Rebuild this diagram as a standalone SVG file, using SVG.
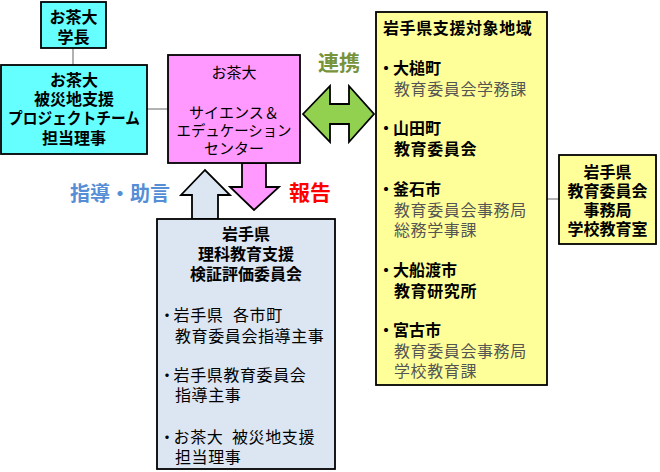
<svg xmlns="http://www.w3.org/2000/svg" width="660" height="472" viewBox="0 0 660 472">
<style>
text{font-family:"Noto Sans CJK JP","Noto Sans CJK SC",sans-serif;font-size:16px;fill:#000}
.b{font-weight:bold}
.c{text-anchor:middle}
.g{fill:#555}
.s{letter-spacing:0.6px}
.box{stroke:#000;stroke-width:1.8}
.con{stroke:#888;stroke-width:1.3;fill:none}
.arr{stroke:#000;stroke-width:1.8;stroke-linejoin:miter}
</style>
<rect width="660" height="472" fill="#fff"/>
<g id="connectors">
<line class="con" x1="73" y1="48" x2="73" y2="65"/>
<line class="con" x1="147" y1="109" x2="168" y2="109"/>
<line class="con" x1="547" y1="199" x2="559" y2="199"/>
<polygon class="arr" fill="#92D050" points="303,114 330,86 330,104 349,104 349,86 374,114 349,142 349,124 330,124 330,142"/>
<polygon class="arr" fill="#FF99FF" points="242,163 266,163 266,187 279,187 254,210 230,187 242,187"/>
<polygon class="arr" fill="#DCE6F2" points="192,219 218,219 218,195 230,195 205,170 181,195 192,195"/>
<text class="b c" x="339" y="70" style="font-size:21px;fill:#77933C">連携</text>
<text class="b c" x="310" y="200" style="font-size:21px;fill:#FF0000">報告</text>
<text class="b c" x="120" y="201" style="font-size:20px;fill:#558ED5">指導・助言</text>
</g>
<g id="president">
<rect class="box" x="41" y="2" width="65" height="46" fill="#66FFFF"/>
<text class="b c" x="73.5" y="23">お茶大</text>
<text class="b c" x="73.5" y="43">学長</text>
</g>
<g id="project">
<rect class="box" x="1" y="65" width="146" height="89" fill="#66FFFF"/>
<text class="b c" x="74" y="86">お茶大</text>
<text class="b c" x="74" y="105">被災地支援</text>
<text class="b c" x="74" y="124" textLength="132" lengthAdjust="spacingAndGlyphs">プロジェクトチーム</text>
<text class="b c" x="74" y="144">担当理事</text>
</g>
<g id="center">
<rect class="box" x="168" y="55" width="132" height="108" fill="#FF99FF"/>
<text class="c" x="234" y="78" style="font-size:15px">お茶大</text>
<text class="c" x="234" y="118" style="font-size:15px" textLength="90" lengthAdjust="spacingAndGlyphs">サイエンス＆</text>
<text class="c" x="234" y="136" style="font-size:15px" textLength="115" lengthAdjust="spacingAndGlyphs">エデュケーション</text>
<text class="c" x="234" y="154" style="font-size:15px" textLength="60" lengthAdjust="spacingAndGlyphs">センター</text>
</g>
<g id="committee">
<rect class="box" x="157" y="219" width="178" height="250" fill="#DCE6F2"/>
<text class="b c" x="246" y="240">岩手県</text>
<text class="b c" x="246" y="260">理科教育支援</text>
<text class="b c" x="246" y="280">検証評価委員会</text>
<text class="s" x="159" y="321">・<tspan dx="-2">岩手県　</tspan><tspan dx="-7">各市町</tspan></text>
<text class="s" x="175" y="342">教育委員会指導主事</text>
<text class="s" x="159" y="381">・<tspan dx="-2">岩手県教育委員会</tspan></text>
<text class="s" x="175" y="401">指導主事</text>
<text class="s" x="159" y="443">・<tspan dx="-2">お茶大　</tspan><tspan dx="-8">被災地支援</tspan></text>
<text class="s" x="175" y="463">担当理事</text>
</g>
<g id="region">
<rect class="box" x="376" y="12" width="171" height="373" fill="#FFFF99"/>
<text class="b" x="383" y="34" style="letter-spacing:0.6px">岩手県支援対象地域</text>
<text class="b" x="378" y="74">・<tspan dx="-1">大槌町</tspan></text>
<text class="g s" x="394" y="95">教育委員会学務課</text>
<text class="b" x="378" y="134">・<tspan dx="-1">山田町</tspan></text>
<text class="b s" x="394" y="155">教育委員会</text>
<text class="b" x="378" y="195">・<tspan dx="-1">釜石市</tspan></text>
<text class="g s" x="394" y="216">教育委員会事務局</text>
<text class="g s" x="394" y="236">総務学事課</text>
<text class="b" x="378" y="276">・<tspan dx="-1">大船渡市</tspan></text>
<text class="b s" x="394" y="297">教育研究所</text>
<text class="b" x="378" y="336">・<tspan dx="-1">宮古市</tspan></text>
<text class="g s" x="394" y="357">教育委員会事務局</text>
<text class="g s" x="394" y="377">学校教育課</text>
</g>
<g id="prefecture">
<rect class="box" x="559" y="155" width="97" height="89" fill="#FFFF99"/>
<text class="b c" x="607.5" y="178">岩手県</text>
<text class="b c" x="607.5" y="197">教育委員会</text>
<text class="b c" x="607.5" y="216">事務局</text>
<text class="b c" x="607.5" y="235">学校教育室</text>
</g>
</svg>
